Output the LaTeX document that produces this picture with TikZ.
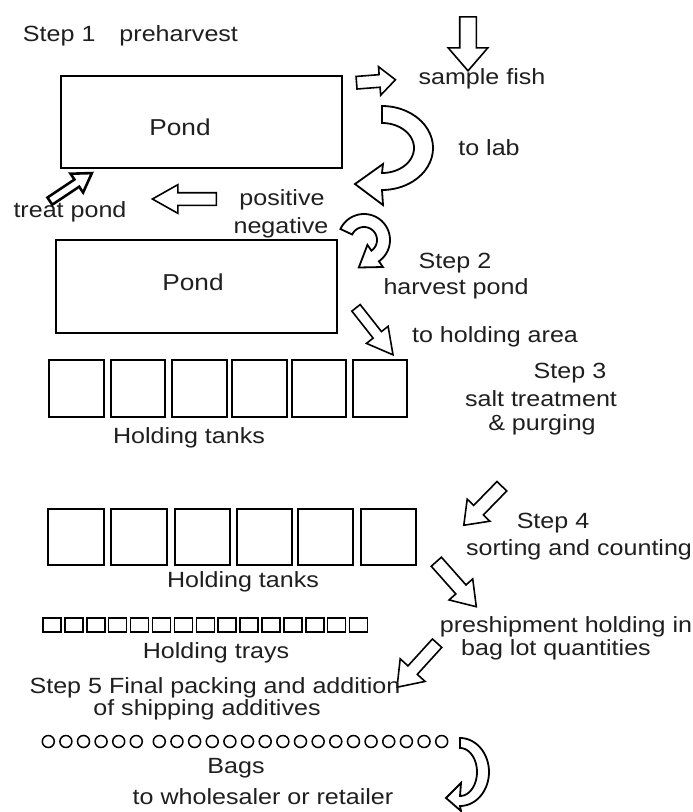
\documentclass[tikz,border=0pt]{standalone}
\usepackage{fontspec}
\setmainfont{Liberation Sans}[FakeStretch=1.14]
\usetikzlibrary{shapes.arrows}
\tikzset{
  lbl/.style={inner sep=0pt, outer sep=0pt, font=\fontsize{22}{24}\selectfont, text=black!88},
  pondbox/.style={draw, line width=1.8pt, inner sep=0pt, outer sep=0pt},
  tankbox/.style={draw, line width=1.8pt, inner sep=0pt, outer sep=0pt, minimum height=56pt},
  traybox/.style={draw, line width=1.5pt, inner sep=0pt, outer sep=0pt, minimum width=18pt, minimum height=14pt},
  bagcirc/.style={draw, circle, line width=1.5pt, inner sep=0pt, outer sep=0pt, minimum size=12pt},
  blockarr/.style={draw, line width=1.6pt, single arrow, inner sep=0pt, outer sep=0pt, single arrow head indent=0pt, line join=miter, text depth=0pt},
  curvarr/.style={draw, line width=1.8pt, line join=miter, fill=white},
}
\begin{document}
\begin{tikzpicture}[x=1pt, y=-1pt]
\fill[white] (0,0) rectangle (693,812);
\useasboundingbox (0,0) rectangle (693,812);

% ---------- Step 1 ----------
\node[lbl, anchor=west] (step1) at (23,36) {Step 1\hspace{24pt}preharvest};
\node[blockarr, text height=15pt, minimum height=54pt, minimum width=38pt, single arrow head extend=11.5pt, single arrow tip angle=81.6, rotate=-90] (a1) at (468,39) {};
\node[blockarr, text height=11pt, minimum height=39pt, minimum width=27pt, single arrow head extend=8pt, single arrow tip angle=84, rotate=4.4] (a2) at (372.5,81.5) {};
\node[lbl] (sample) at (482,79) {sample fish};
\node[pondbox, minimum width=281pt, minimum height=92pt] (pond1) at (201.5,122) {};
\node[lbl, font=\fontsize{23}{25}\selectfont] (pond1txt) at (180,127) {Pond};
\node[lbl] (tolab) at (489,148) {to lab};
% curved arrow to lab
\draw[curvarr] (382,106) -- plot[domain=-90:90, samples=40] ({382+51*cos(\x)},{148+42*sin(\x)})
  -- (383,205) -- (355,184) -- (383,164) -- (382,173)
  -- plot[domain=90:-90, samples=40] ({382+32*cos(\x)},{148+25*sin(\x)}) -- cycle;
\node[lbl] (positive) at (282,200) {positive};
\node[lbl] (negative) at (281,228) {negative};
\node[blockarr, text height=11pt, minimum height=64pt, minimum width=27pt, single arrow head extend=8pt, single arrow tip angle=58.7, rotate=180] (a3) at (190,199) {};
\node[lbl] (treat) at (70,212) {treat pond};
\node[blockarr, line width=2.6pt, text height=6pt, minimum height=50.5pt, minimum width=20pt, single arrow head extend=7pt, single arrow tip angle=64, rotate=33.7] (a4) at (68,189) {};
% hook arrow negative -> step 2
\draw[curvarr] plot[domain=-155:55, samples=40] ({364+26*cos(\x)},{240+26*sin(\x)})
  -- (382.9,267) -- (358.8,267.5) -- (367.4,244.9)
  -- plot[domain=55:-155, samples=40] ({364+13*cos(\x)},{240+13*sin(\x)}) -- cycle;

% ---------- Step 2 ----------
\node[pondbox, minimum width=281pt, minimum height=93pt] (pond2) at (196.5,286.5) {};
\node[lbl, font=\fontsize{23}{25}\selectfont] (pond2txt) at (193,282) {Pond};
\node[lbl] (step2) at (455,263) {Step 2};
\node[lbl] (harvest) at (456,289) {harvest pond};
\node[blockarr, text height=9pt, minimum height=59.8pt, minimum width=26pt, single arrow head extend=8.5pt, single arrow tip angle=57, rotate=-51.8] (a5) at (371.5,327.5) {};
\node[lbl] (toholding) at (495,337) {to holding area};

% ---------- Step 3 ----------
\foreach \xx/\ww [count=\i] in {49/55,111/54,172/55,232/55,292/54,353/54}
  \node[tankbox, minimum width=\ww pt, minimum height=57pt, anchor=north west] (tankA\i) at (\xx,360) {};
\node[lbl] (tanksA) at (189,438) {Holding tanks};
\node[lbl] (step3) at (570,373) {Step 3};
\node[lbl] (salt) at (541,399) {salt treatment};
\node[lbl] (purging) at (542,425) {\& purging};
\node[blockarr, text height=12pt, minimum height=54.5pt, minimum width=30pt, single arrow head extend=9pt, single arrow tip angle=73.7, rotate=-134.3] (a6) at (486,502.5) {};

% ---------- Step 4 ----------
\foreach \xx/\ww [count=\i] in {48/56,111/56,175/55,237/55,298/55,361/55}
  \node[tankbox, minimum width=\ww pt, anchor=north west] (tankB\i) at (\xx,509) {};
\node[lbl] (tanksB) at (243,582) {Holding tanks};
\node[lbl] (step4) at (553,523) {Step 4};
\node[lbl, anchor=east] (sorting) at (692,550) {sorting and counting};
\node[blockarr, text height=12pt, minimum height=60.2pt, minimum width=30pt, single arrow head extend=9pt, single arrow tip angle=68.6, rotate=-48.4] (a7) at (453,580.5) {};

\foreach \i in {0,...,14}
  \node[traybox, anchor=north west] (tray\i) at ({43+21.9*\i},618) {};
\node[lbl] (trays) at (216,653) {Holding trays};
\node[lbl] (preship) at (566,627) {preshipment holding in};
\node[lbl] (baglot) at (556,650) {bag lot quantities};
\node[blockarr, text height=11pt, minimum height=59.5pt, minimum width=32pt, single arrow head extend=10.5pt, single arrow tip angle=72, rotate=-132.3] (a8) at (420,662) {};

% ---------- Step 5 ----------
\node[lbl] (step5) at (215,688) {Step 5 Final packing and addition};
\node[lbl] (shipping) at (207,710) {of shipping additives};
\foreach \k in {0,...,5}
  \node[bagcirc] (bagA\k) at ({48.3+17.6*\k},741.5) {};
\foreach \k in {0,...,16}
  \node[bagcirc] (bagB\k) at ({159.3+17.65*\k},741.5) {};
\node[lbl] (bags) at (236,768) {Bags};
\node[lbl] (wholesaler) at (263,797) {to wholesaler or retailer};
\draw[curvarr] plot[domain=-90:90, samples=40] ({460+29*cos(\x)},{772+34*sin(\x)})
  -- (461,811) -- (446,798) -- (461,783)
  -- plot[domain=90:-90, samples=40] ({460+17*cos(\x)},{772+24*sin(\x)}) -- cycle;
\end{tikzpicture}
\end{document}
